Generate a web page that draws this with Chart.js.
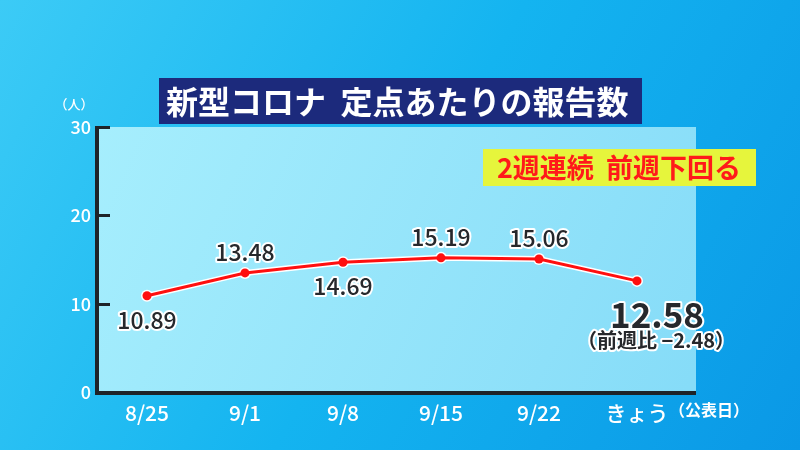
<!DOCTYPE html>
<html>
<head>
<meta charset="utf-8">
<script src="https://cdn.jsdelivr.net/npm/chart.js@4"></script>
<style>
  html, body { margin: 0; padding: 0; }
  #wrap { width: 800px; height: 450px; }
</style>
</head>
<body>
<div id="wrap"><canvas id="chart" width="800" height="450"></canvas></div>
<script>
// Chart data
const dates = ['8/25', '9/1', '9/8', '9/15', '9/22', 'きょう'];
const reports = [10.89, 13.48, 14.69, 15.19, 15.06, 12.58];
const yTicks = [0, 10, 20, 30];

const titleText = '新型コロナ  定点あたりの報告数';
const noteText = '2週連続  前週下回る';
const changeText = '（前週比 −2.48）';

const FONT = '"Noto Sans CJK JP", "Noto Sans", sans-serif';

// where each value label sits relative to its point
const labelSide = ['below', 'above', 'below', 'above', 'above', 'below'];

function outlinedText(ctx, text, x, y, fill, lw) {
    ctx.lineJoin = 'round';
    ctx.strokeStyle = '#ffffff';
    ctx.lineWidth = lw;
    ctx.strokeText(text, x, y);
    ctx.fillStyle = fill;
    ctx.fillText(text, x, y);
}

const decorPlugin = {
    id: 'decor',
    beforeDraw(chart) {
        const ctx = chart.ctx;
        const a = chart.chartArea;
        ctx.save();
        // page background
        const bg = ctx.createLinearGradient(0, 0, 800, 450);
        bg.addColorStop(0, '#3ccbf6');
        bg.addColorStop(0.5, '#14b4f0');
        bg.addColorStop(1, '#0a98e6');
        ctx.fillStyle = bg;
        ctx.fillRect(0, 0, 800, 450);
        // light plot panel
        const pg = ctx.createLinearGradient(a.left, a.top, a.right, a.bottom);
        pg.addColorStop(0, '#a6eefd');
        pg.addColorStop(1, '#86dcf8');
        ctx.fillStyle = pg;
        ctx.fillRect(a.left, a.top, a.right + 10 - a.left, a.bottom - a.top);
        ctx.restore();
    },
    afterDraw(chart) {
        const ctx = chart.ctx;
        const a = chart.chartArea;
        const y = chart.scales.y;
        ctx.save();

        // axes and inward ticks
        ctx.fillStyle = '#1e2328';
        ctx.fillRect(a.left - 3, a.top - 1, 4, a.bottom - a.top + 3);
        ctx.fillRect(a.left - 3, a.bottom - 1, a.right + 13 - a.left, 4);
        yTicks.forEach(v => {
            if (v === 0) return;
            const py = Math.round(y.getPixelForValue(v));
            ctx.fillRect(a.left, py - 1, 12, 3);
        });

        // unit labels
        ctx.fillStyle = '#ffffff';
        ctx.font = '500 13px ' + FONT;
        ctx.textAlign = 'center';
        ctx.textBaseline = 'middle';
        ctx.fillText('（人）', 74, 104);
        ctx.font = 'bold 16px ' + FONT;
        ctx.fillText('（公表日）', 709, 410);

        // title box
        ctx.fillStyle = '#1c2a7c';
        ctx.fillRect(159, 78, 483, 46);
        ctx.fillStyle = '#ffffff';
        ctx.font = 'bold 32px ' + FONT;
        ctx.textAlign = 'left';
        ctx.fillText(titleText, 166, 102);

        // yellow note
        ctx.fillStyle = '#e6f53c';
        ctx.fillRect(483, 149, 273, 37);
        ctx.fillStyle = '#ff1a1a';
        ctx.font = 'bold 27px ' + FONT;
        ctx.textAlign = 'center';
        ctx.fillText(noteText, 619, 168);

        // value labels
        const meta = chart.getDatasetMeta(1);
        meta.data.forEach((pt, i) => {
            ctx.textAlign = 'center';
            ctx.textBaseline = 'middle';
            if (i === reports.length - 1) {
                ctx.font = 'bold 35px ' + FONT;
                outlinedText(ctx, reports[i].toFixed(2), pt.x + 20, pt.y + 34, '#26282c', 4);
                ctx.font = 'bold 20px ' + FONT;
                outlinedText(ctx, changeText, pt.x + 19, pt.y + 60, '#26282c', 4);
                return;
            }
            ctx.font = '500 23px ' + FONT;
            const dy = labelSide[i] === 'above' ? -21 : 24;
            outlinedText(ctx, reports[i].toFixed(2), pt.x, pt.y + dy, '#26282c', 4);
        });
        ctx.restore();
    }
};

new Chart(document.getElementById('chart'), {
    type: 'line',
    data: {
        labels: dates,
        datasets: [
            {
                // white halo under the red line
                data: reports,
                order: 2,
                borderColor: '#ffffff',
                borderWidth: 6,
                pointRadius: 6,
                pointBackgroundColor: '#ffffff',
                pointBorderWidth: 0,
                tension: 0
            },
            {
                data: reports,
                order: 1,
                borderColor: '#ff0f0f',
                borderWidth: 3,
                pointRadius: 4.5,
                pointBackgroundColor: '#ff0f0f',
                pointBorderWidth: 0,
                tension: 0
            }
        ]
    },
    options: {
        responsive: false,
        animation: false,
        devicePixelRatio: 1,
        layout: { padding: { left: 0, top: 127, right: 114, bottom: 0 } },
        plugins: {
            legend: { display: false },
            tooltip: { enabled: false }
        },
        scales: {
            x: {
                offset: true,
                grid: { display: false, drawTicks: false },
                border: { display: false },
                ticks: {
                    color: '#ffffff',
                    padding: 8,
                    font: { family: FONT, size: 21, weight: '500' },
                    maxRotation: 0
                },
                afterFit(scale) { scale.height = 58; }
            },
            y: {
                min: 0,
                max: 30,
                afterBuildTicks(scale) { scale.ticks = yTicks.map(v => ({ value: v })); },
                grid: { display: false, drawTicks: false },
                border: { display: false },
                ticks: {
                    color: '#ffffff',
                    padding: 7,
                    font: { family: FONT, size: 18, weight: '500' }
                },
                afterFit(scale) { scale.width = 98; }
            }
        }
    },
    plugins: [decorPlugin]
});
</script>
</body>
</html>
